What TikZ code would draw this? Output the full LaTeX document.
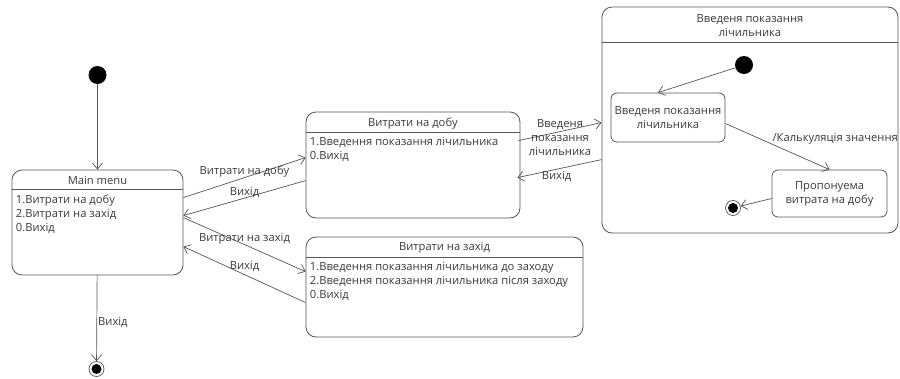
\documentclass[tikz,border=0pt]{standalone}
\usepackage{fontspec}
\setmainfont{Open Sans}
\usetikzlibrary{arrows.meta,calc,positioning}
\definecolor{linegray}{HTML}{555555}
\definecolor{textgray}{HTML}{3A3A3A}

\begin{document}
\begin{tikzpicture}[
            x=1pt, y=-1pt,
            font=\fontsize{11.2}{14}\selectfont,
            color=linegray, line width=0.7pt,
            >={Straight Barb[length=6pt,width=10pt]},
            every node/.style={text=textgray},
            statebox/.style={draw=linegray, rounded corners=10pt, line width=0.8pt},
            smallstate/.style={draw=linegray, rounded corners=6pt, line width=0.8pt, align=center},
            boxtitle/.style={inner sep=0pt},
            boxbody/.style={anchor=north west, align=left, inner sep=0pt},
            initstate/.style={circle, fill=black, draw=none, minimum size=18pt, inner sep=0pt},
            finalstate/.style={circle, draw=linegray, minimum size=15pt, inner sep=0pt,
                path picture={\fill[black] (path picture bounding box.center) circle (5pt);}},
            lbl/.style={inner sep=1pt},
        ]
            \useasboundingbox (0,0) rectangle (900,378);

            % main menu
            \node [statebox, minimum width=171pt, minimum height=105pt] (main) at (97.5,222.5) {};
            \node [boxtitle] (maintitle) at ($(main.north)+(0,11)$) {Main menu};
            \draw ($(main.north west)+(0,20)$) -- ($(main.north east)+(0,20)$);
            \node [boxbody] (mainbody) at ($(main.north west)+(4,25)$) {1.Витрати на добу\\2.Витрати на захід\\0.Вихід};

            \node [initstate] (start) at (97.5,75) {};
            \node [finalstate] (end) at (96.5,369) {};

            % витрати на добу
            \node [statebox, minimum width=214pt, minimum height=106pt] (dobu) at (413,165) {};
            \node [boxtitle] (dobutitle) at ($(dobu.north)+(0,12)$) {Витрати на добу};
            \draw ($(dobu.north west)+(0,21)$) -- ($(dobu.north east)+(0,21)$);
            \node [boxbody] (dobubody) at ($(dobu.north west)+(4,25)$) {1.Введення показання лічильника\\0.Вихід};

            % витрати на захід
            \node [statebox, minimum width=277pt, minimum height=100pt] (zakhid) at (444.5,287) {};
            \node [boxtitle] (zakhidtitle) at ($(zakhid.north)+(0,11)$) {Витрати на захід};
            \draw ($(zakhid.north west)+(0,21)$) -- ($(zakhid.north east)+(0,21)$);
            \node [boxbody] (zakhidbody) at ($(zakhid.north west)+(4,25)$) {1.Введення показання лічильника до заходу\\2.Введення показання лічильника після заходу\\0.Вихід};

            % введеня показання (composite)
            \node [statebox, minimum width=296pt, minimum height=226pt] (compo) at (750,120) {};
            \node [boxtitle, align=center] (compotitle) at ($(compo.north)+(0,19)$) {Введеня показання\\лічильника};
            \draw ($(compo.north west)+(0,36)$) -- ($(compo.north east)+(0,36)$);

            \node [initstate] (start2) at (744,65) {};
            \node [smallstate, minimum width=114pt, minimum height=49pt, inner sep=1pt] (enter) at (668,117.5) {Введеня показання\\лічильника};
            \node [smallstate, minimum width=115pt, minimum height=47pt] (offer) at (829.5,193.5) {Пропонуема\\витрата на добу};
            \node [finalstate] (end2) at (733,208) {};

            % transitions
            \draw [->] (start) -- (main);
            \draw [->] (main) -- node [lbl, pos=0.55, right] {Вихід} (end);
            \draw [->] ($(main.north east)+(0,28)$) -- node [lbl, midway, yshift=6pt] {Витрати на добу} ($(dobu.north west)+(0,46)$);
            \draw [->] ($(dobu.north west)+(0,69)$) -- node [lbl, midway, yshift=6pt] {Вихід} ($(main.north east)+(0,46)$);
            \draw [->] ($(main.north east)+(0,48)$) -- node [lbl, midway, yshift=6pt] {Витрати на захід} ($(zakhid.north west)+(0,35)$);
            \draw [->] ($(zakhid.north west)+(0,66)$) -- node [lbl, midway, yshift=8pt] {Вихід} ($(main.north east)+(0,77)$);
            \draw [->] ($(dobu.north east)+(-2,29)$) -- node [lbl, midway, yshift=-6pt, align=center] {Введеня\\показання\\лічильника} ($(compo.north west)+(0,116)$);
            \draw [->] ($(compo.north west)+(0,153)$) -- node [lbl, midway, xshift=-3pt, yshift=-8pt] {Вихід} ($(dobu.north east)+(-3,66)$);
            \draw [->] (start2) -- ($(enter.north)+(-10,0)$);
            \draw [->] ($(enter.east)+(0,6)$) -- node [lbl, pos=0.45, anchor=south west, inner sep=0pt] {/Калькуляція значення} (offer.north);
            \draw [->] ($(offer.west)+(0,5)$) -- (end2);
        \end{tikzpicture}
\end{document}
